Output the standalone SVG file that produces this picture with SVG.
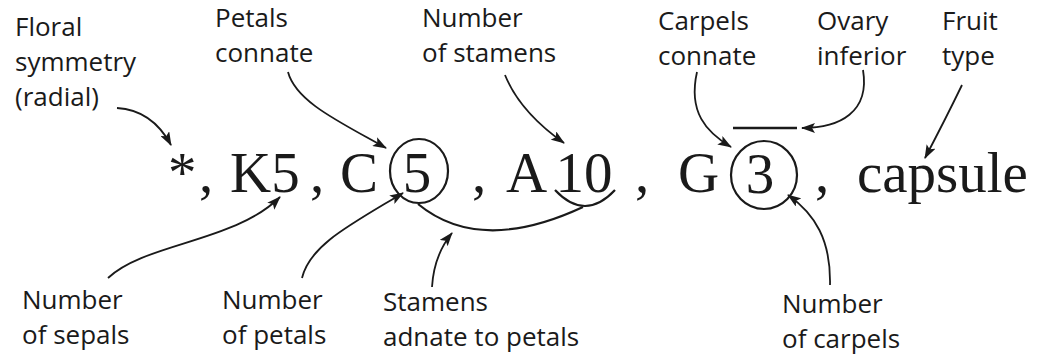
<svg xmlns="http://www.w3.org/2000/svg" width="1039" height="357" viewBox="0 0 1039 357">
<style>
.lbl{font-family:"Open Sans","Liberation Sans",sans-serif;font-size:26px;fill:#1a1a1a}
.f{font-family:"Liberation Serif","DejaVu Serif",serif;font-size:57px;fill:#1a1a1a}
.ln{fill:none;stroke:#1a1a1a;stroke-width:1.8}
.ring{fill:none;stroke:#1a1a1a;stroke-width:2.2}
</style>
<defs>
<marker id="ah" viewBox="0 0 14 10" markerWidth="14" markerHeight="10" refX="13" refY="5" orient="auto" markerUnits="userSpaceOnUse">
<path d="M0,0 L14,5 L0,10 L3,5 z" fill="#1a1a1a"/>
</marker>
</defs>
<rect width="1039" height="357" fill="#fff"/>

<g id="formula">
<text class="f" x="168" y="192">*</text>
<text class="f" x="199" y="192">,</text>
<text class="f" x="230" y="192">K5</text>
<text class="f" x="310" y="192">,</text>
<text class="f" x="340" y="192">C</text>
<ellipse class="ring" cx="419" cy="171" rx="29" ry="32"/>
<text class="f" x="417" y="192" text-anchor="middle">5</text>
<text class="f" x="472" y="192">,</text>
<text class="f" x="506" y="192">A</text>
<text class="f" x="584" y="192" text-anchor="middle">10</text>
<text class="f" x="635" y="192">,</text>
<text class="f" x="678" y="192">G</text>
<ellipse class="ring" cx="764" cy="175" rx="33" ry="34"/>
<text class="f" x="760" y="193" text-anchor="middle">3</text>
<text class="f" x="815" y="192">,</text>
<text class="f" x="857" y="192">capsule</text>
<path class="ring" d="M555,190 Q585,222 615,190"/>
<path class="ring" d="M418,204 Q480,255 583,207"/>
<line x1="733" y1="128" x2="797" y2="128" stroke="#1a1a1a" stroke-width="2.6"/>
</g>

<g id="label-floral"><text class="lbl" x="15" y="36">Floral</text><text class="lbl" x="15" y="71">symmetry</text><text class="lbl" x="15" y="106">(radial)</text></g>
<g id="label-petals-connate"><text class="lbl" x="215" y="27">Petals</text><text class="lbl" x="215" y="62">connate</text></g>
<g id="label-stamens-number"><text class="lbl" x="422" y="27">Number</text><text class="lbl" x="422" y="62">of stamens</text></g>
<g id="label-carpels-connate"><text class="lbl" x="658" y="30">Carpels</text><text class="lbl" x="658" y="65">connate</text></g>
<g id="label-ovary"><text class="lbl" x="817" y="30">Ovary</text><text class="lbl" x="817" y="65">inferior</text></g>
<g id="label-fruit"><text class="lbl" x="942" y="30">Fruit</text><text class="lbl" x="942" y="65">type</text></g>
<g id="label-sepals"><text class="lbl" x="22" y="309">Number</text><text class="lbl" x="22" y="344">of sepals</text></g>
<g id="label-petals"><text class="lbl" x="222" y="309">Number</text><text class="lbl" x="222" y="344">of petals</text></g>
<g id="label-adnate"><text class="lbl" x="383" y="311">Stamens</text><text class="lbl" x="383" y="346">adnate to petals</text></g>
<g id="label-carpels"><text class="lbl" x="782" y="313">Number</text><text class="lbl" x="782" y="348">of carpels</text></g>

<g id="connectors">
<path class="ln" marker-end="url(#ah)" d="M117,108 Q152,110 171,145"/>
<path class="ln" marker-end="url(#ah)" d="M288,72 C296,102 340,122 386,148"/>
<path class="ln" marker-end="url(#ah)" d="M505,75 Q520,112 564,143"/>
<path class="ln" marker-end="url(#ah)" d="M697,72 C688,112 706,132 731,147"/>
<path class="ln" marker-end="url(#ah)" d="M863,70 C870,112 840,128 802,128"/>
<path class="ln" marker-end="url(#ah)" d="M962,85 Q945,120 925,158"/>
<path class="ln" marker-end="url(#ah)" d="M108,278 C145,243 235,242 280,197"/>
<path class="ln" marker-end="url(#ah)" d="M302,278 C310,245 350,225 403,193"/>
<path class="ln" marker-end="url(#ah)" d="M432,287 Q434,255 452,233"/>
<path class="ln" marker-end="url(#ah)" d="M830,285 C831,240 815,214 788,195"/>
</g>
</svg>
